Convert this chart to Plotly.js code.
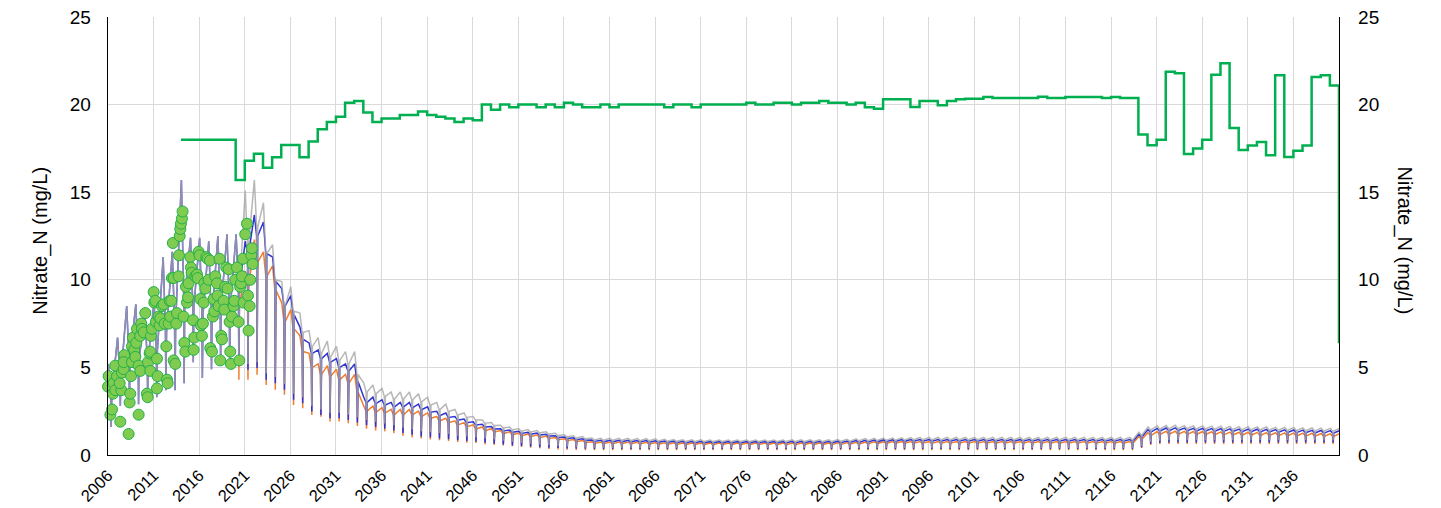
<!DOCTYPE html>
<html>
<head>
<meta charset="utf-8">
<script src="https://cdn.plot.ly/plotly-3.0.1.min.js"></script>
<style>html,body{margin:0;padding:0;background:#fff;}#chart{width:1441px;height:508px;}</style>
</head>
<body>
<div id="chart"></div>
<script>
// ---------- DATA ----------
const xTickLabels = ['2006','2011','2016','2021','2026','2031','2036','2041','2046','2051','2056','2061','2066','2071','2076','2081','2086','2091','2096','2101','2106','2111','2116','2121','2126','2131','2136'];

// model years 2006 .. 2141 (one cycle per year)
const firstYear = 2006;

// Gray series: annual peak, plateau and trough
const grayHi = [
5.2,6.7,8.5,8.6,8.1,8.8,11.3,11.6,15.7,12.4,
12.4,12.2,12.5,12.6,12.6,15.1,15.7,14.4,12.0,9.9,
9.6,8.1,7.1,6.7,6.5,6.2,5.9,5.9,4.1,4.0,
3.8,3.6,3.6,3.6,3.5,3.3,3.0,2.9,2.6,2.4,
2.2,2.0,1.85,1.7,1.6,1.5,1.45,1.4,1.33,1.24,
1.15,1.1,1.05,0.97,0.95,0.95,0.95,0.95,0.94,0.93,
0.92,0.9,0.88,0.87,0.87,0.87,0.86,0.86,0.86,0.86,
0.86,0.86,0.86,0.86,0.86,0.87,0.87,0.87,0.87,0.87,
0.88,0.9,0.92,0.94,0.95,0.96,0.97,0.98,0.99,1.0,
1.0,1.0,1.0,1.0,1.0,1.0,1.0,1.0,1.0,1.0,
1.0,1.0,1.0,1.0,1.0,1.0,1.0,1.0,1.0,1.0,
1.0,1.0,1.0,1.3,1.6,1.66,1.68,1.7,1.68,1.66,
1.66,1.65,1.64,1.63,1.62,1.62,1.6,1.6,1.58,1.57,
1.56,1.55,1.54,1.53,1.52,1.52];
const grayPl = [
3.5,4.5,5.5,5.5,5.5,6.0,7.0,7.5,9.0,8.5,
8.0,8.0,8.5,8.5,9.5,12.0,13.0,11.5,10.0,8.5,
8.2,7.0,6.2,5.8,5.6,5.4,5.2,4.6,3.6,3.5,
3.35,3.2,3.2,3.15,3.05,2.85,2.6,2.5,2.3,2.15,
2.0,1.82,1.68,1.55,1.45,1.37,1.32,1.27,1.2,1.12,
1.05,0.98,0.93,0.87,0.85,0.85,0.85,0.84,0.83,0.82,
0.81,0.8,0.79,0.78,0.78,0.78,0.78,0.78,0.78,0.78,
0.78,0.78,0.78,0.78,0.78,0.78,0.78,0.78,0.78,0.78,
0.79,0.8,0.82,0.83,0.84,0.85,0.86,0.87,0.88,0.88,
0.88,0.88,0.88,0.88,0.88,0.88,0.88,0.88,0.88,0.88,
0.88,0.88,0.88,0.88,0.88,0.88,0.88,0.88,0.88,0.88,
0.88,0.88,0.88,1.15,1.45,1.5,1.52,1.53,1.52,1.5,
1.5,1.49,1.48,1.47,1.46,1.46,1.45,1.44,1.43,1.42,
1.41,1.4,1.39,1.38,1.37,null];
const grayLo = [
1.6,2.8,3.0,2.9,3.3,3.3,3.7,3.7,4.1,5.3,
4.4,4.9,5.3,5.1,5.2,5.2,5.3,4.65,4.45,4.05,
3.5,3.3,2.8,2.6,2.4,2.4,2.3,2.15,2.0,1.9,
1.8,1.7,1.55,1.45,1.35,1.3,1.25,1.2,1.1,1.05,
1.0,0.95,0.88,0.82,0.76,0.7,0.65,0.6,0.56,0.52,
0.48,0.45,0.43,0.42,0.42,0.41,0.41,0.41,0.4,0.4,
0.4,0.4,0.4,0.4,0.4,0.4,0.4,0.4,0.4,0.4,
0.4,0.4,0.4,0.4,0.4,0.4,0.4,0.4,0.4,0.4,
0.4,0.4,0.4,0.4,0.4,0.4,0.4,0.4,0.4,0.4,
0.4,0.4,0.4,0.4,0.4,0.4,0.4,0.4,0.4,0.4,
0.4,0.4,0.4,0.4,0.4,0.4,0.4,0.4,0.4,0.4,
0.4,0.4,0.4,0.52,0.75,0.82,0.84,0.85,0.85,0.85,
0.85,0.85,0.85,0.85,0.85,0.85,0.85,0.85,0.85,0.85,
0.84,0.84,0.83,0.83,0.83,null];

// Blue series (follows the gray one before 2020)
const blueHi = [
null,null,null,null,null,null,null,null,null,null,
null,null,null,null,null,12.2,13.7,13.3,11.3,9.5,
9.1,7.3,6.4,6.0,5.8,5.5,5.2,5.2,3.3,3.3,
3.15,3.0,3.0,3.0,2.9,2.75,2.5,2.4,2.2,2.05,
1.9,1.75,1.62,1.5,1.42,1.35,1.3,1.25,1.18,1.1,
1.03,0.98,0.93,0.86,0.84,0.84,0.84,0.84,0.83,0.82,
0.81,0.8,0.79,0.78,0.78,0.78,0.77,0.77,0.77,0.77,
0.77,0.77,0.77,0.77,0.77,0.78,0.78,0.78,0.78,0.78,
0.79,0.8,0.82,0.84,0.85,0.86,0.87,0.88,0.88,0.88,
0.88,0.88,0.88,0.88,0.88,0.88,0.88,0.88,0.88,0.88,
0.88,0.88,0.88,0.88,0.88,0.88,0.88,0.88,0.88,0.88,
0.88,0.88,0.88,1.18,1.45,1.52,1.54,1.55,1.54,1.52,
1.52,1.51,1.5,1.49,1.48,1.48,1.47,1.46,1.45,1.44,
1.43,1.42,1.41,1.4,1.39,1.39];
const bluePl = [
null,null,null,null,null,null,null,null,null,null,
null,null,null,null,null,11.5,12.5,11.5,9.9,8.5,
8.0,6.6,5.8,5.5,5.3,5.0,4.8,4.2,3.0,2.95,
2.85,2.75,2.75,2.7,2.6,2.45,2.25,2.15,2.0,1.85,
1.72,1.6,1.48,1.38,1.3,1.24,1.19,1.14,1.08,1.0,
0.94,0.88,0.84,0.78,0.76,0.76,0.76,0.76,0.75,0.74,
0.73,0.72,0.71,0.7,0.7,0.7,0.7,0.7,0.7,0.7,
0.7,0.7,0.7,0.7,0.7,0.7,0.7,0.7,0.7,0.7,
0.71,0.72,0.73,0.75,0.76,0.77,0.78,0.79,0.8,0.8,
0.8,0.8,0.8,0.8,0.8,0.8,0.8,0.8,0.8,0.8,
0.8,0.8,0.8,0.8,0.8,0.8,0.8,0.8,0.8,0.8,
0.8,0.8,0.8,1.05,1.32,1.38,1.4,1.41,1.4,1.38,
1.38,1.37,1.36,1.35,1.34,1.34,1.33,1.32,1.31,1.3,
1.29,1.28,1.27,1.26,1.25,null];
const blueLo = [
null,null,null,null,null,null,null,null,null,null,
null,null,null,null,5.07,4.87,4.96,4.3,4.1,3.72,
3.15,2.96,2.48,2.29,2.1,2.1,2.0,1.85,1.7,1.6,
1.5,1.4,1.25,1.15,1.05,1.0,0.95,0.9,0.85,0.8,
0.76,0.7,0.65,0.6,0.55,0.52,0.48,0.45,0.42,0.4,
0.38,0.37,0.36,0.35,0.35,0.35,0.35,0.35,0.35,0.35,
0.35,0.35,0.35,0.35,0.35,0.35,0.35,0.35,0.35,0.35,
0.35,0.35,0.35,0.35,0.35,0.35,0.35,0.35,0.35,0.35,
0.35,0.35,0.35,0.35,0.35,0.35,0.35,0.35,0.35,0.35,
0.35,0.35,0.35,0.35,0.35,0.35,0.35,0.35,0.35,0.35,
0.35,0.35,0.35,0.35,0.35,0.35,0.35,0.35,0.35,0.35,
0.35,0.35,0.35,0.45,0.65,0.7,0.72,0.72,0.72,0.72,
0.72,0.72,0.72,0.72,0.72,0.72,0.72,0.72,0.72,0.72,
0.72,0.72,0.72,0.72,0.72,null];

// Orange series (starts 2020)
const orangeHi = [
null,null,null,null,null,null,null,null,null,null,
null,null,null,null,null,10.5,12.3,11.6,10.8,8.7,
8.3,6.8,5.8,5.2,5.1,4.9,4.6,4.6,2.8,2.8,
2.7,2.6,2.6,2.6,2.5,2.4,2.2,2.1,1.95,1.85,
1.72,1.6,1.5,1.4,1.32,1.25,1.2,1.15,1.08,1.0,
0.93,0.88,0.82,0.76,0.74,0.74,0.74,0.74,0.73,0.72,
0.71,0.7,0.7,0.69,0.69,0.69,0.69,0.69,0.69,0.69,
0.69,0.69,0.69,0.69,0.69,0.69,0.69,0.69,0.69,0.69,
0.7,0.71,0.72,0.74,0.75,0.76,0.77,0.77,0.77,0.77,
0.77,0.77,0.77,0.77,0.77,0.77,0.77,0.77,0.77,0.77,
0.77,0.77,0.77,0.77,0.77,0.77,0.77,0.77,0.77,0.77,
0.77,0.77,0.77,1.05,1.28,1.34,1.36,1.36,1.35,1.34,
1.34,1.33,1.32,1.31,1.3,1.3,1.29,1.28,1.27,1.26,
1.26,1.25,1.24,1.23,1.22,1.22];
const orangePl = [
null,null,null,null,null,null,null,null,null,null,
null,null,null,null,8.5,9.5,11.0,10.2,9.4,7.6,
7.2,5.9,5.0,4.6,4.5,4.3,4.1,3.6,2.5,2.45,
2.4,2.3,2.3,2.3,2.2,2.1,1.95,1.85,1.72,1.62,
1.5,1.4,1.32,1.23,1.16,1.1,1.05,1.0,0.95,0.88,
0.82,0.77,0.72,0.67,0.65,0.65,0.65,0.65,0.64,0.63,
0.62,0.61,0.61,0.6,0.6,0.6,0.6,0.6,0.6,0.6,
0.6,0.6,0.6,0.6,0.6,0.6,0.6,0.6,0.6,0.6,
0.61,0.62,0.63,0.65,0.66,0.67,0.68,0.68,0.68,0.68,
0.68,0.68,0.68,0.68,0.68,0.68,0.68,0.68,0.68,0.68,
0.68,0.68,0.68,0.68,0.68,0.68,0.68,0.68,0.68,0.68,
0.68,0.68,0.68,0.92,1.12,1.18,1.2,1.2,1.19,1.18,
1.18,1.17,1.16,1.15,1.14,1.14,1.13,1.12,1.11,1.1,
1.1,1.09,1.08,1.07,1.06,null];
const orangeLo = [
null,null,null,null,null,null,null,null,null,null,
null,null,null,null,4.3,4.3,4.58,4.0,3.72,3.44,
2.86,2.67,2.29,2.19,1.91,1.91,1.81,1.65,1.5,1.4,
1.35,1.25,1.1,1.0,0.95,0.88,0.85,0.8,0.75,0.7,
0.68,0.62,0.58,0.54,0.5,0.46,0.42,0.38,0.35,0.32,
0.3,0.29,0.28,0.28,0.28,0.28,0.28,0.28,0.28,0.28,
0.28,0.28,0.28,0.28,0.28,0.28,0.28,0.28,0.28,0.28,
0.28,0.28,0.28,0.28,0.28,0.28,0.28,0.28,0.28,0.28,
0.28,0.28,0.28,0.28,0.28,0.28,0.28,0.28,0.28,0.28,
0.28,0.28,0.28,0.28,0.28,0.28,0.28,0.28,0.28,0.28,
0.28,0.28,0.28,0.28,0.28,0.28,0.28,0.28,0.28,0.28,
0.28,0.28,0.28,0.4,0.58,0.63,0.63,0.63,0.63,0.63,
0.63,0.63,0.63,0.63,0.63,0.63,0.63,0.63,0.63,0.63,
0.63,0.63,0.63,0.63,0.63,null];

// Green stepped series, one value per year from 2014
const greenStart = 2014;
const greenVals = [
18.0,18.0,18.0,18.0,18.0,18.0,
15.7,16.8,17.2,16.4,17.0,17.7,17.7,17.0,17.9,18.6,
19.0,19.3,20.1,20.2,19.55,19.0,19.2,19.2,19.4,19.4,
19.6,19.4,19.3,19.2,19.0,19.2,19.1,20.0,19.7,20.0,
19.85,20.0,20.0,19.85,20.0,19.85,20.1,20.0,19.85,19.85,
20.0,19.85,20.0,20.0,20.0,20.0,20.0,19.85,20.0,20.0,
19.85,20.0,20.0,20.0,20.0,20.0,20.1,20.0,20.0,20.1,
20.1,20.0,20.1,20.1,20.2,20.1,20.1,20.0,20.1,19.85,
19.77,20.3,20.3,20.3,19.87,20.2,20.2,19.96,20.2,20.3,
20.34,20.34,20.44,20.38,20.38,20.38,20.38,20.38,20.45,20.38,
20.38,20.44,20.44,20.44,20.44,20.38,20.44,20.38,20.38,18.29,
17.68,18.0,21.87,21.79,17.18,17.49,18.0,21.7,22.36,18.67,
17.41,17.66,17.87,17.11,21.68,17.01,17.37,17.66,21.58,21.68,
21.09,6.38];

// Observations
const obsYear = [
2006.0,2006.26,2006.44,2006.07,2006.62,2006.55,2006.80,2006.99,2006.80,2007.35,
2007.46,2007.28,2007.53,2007.71,2007.79,2007.71,2008.26,2008.37,2008.44,2008.52,
2008.63,2008.63,2008.74,2008.88,2008.99,2009.10,2009.36,2009.18,2009.36,2009.54,
2009.65,2009.54,2009.72,2009.91,2010.09,2010.27,2010.35,2010.38,2010.57,2010.64,
2010.71,2010.64,2010.82,2011.01,2011.08,2011.19,2011.26,2011.37,2011.44,2011.37,
2011.55,2011.66,2011.74,2011.92,2012.10,2012.21,2012.39,2012.47,2012.54,2012.65,
2012.76,2012.83,2012.94,2013.01,2013.12,2013.20,2013.20,2013.38,2013.49,2013.56,
2013.74,2013.78,2013.86,2013.93,2014.00,2014.11,2014.18,2014.29,2014.37,2014.48,
2014.55,2014.66,2014.77,2014.84,2015.02,2015.10,2015.17,2015.32,2015.39,2015.46,
2015.57,2015.76,2015.83,2015.94,2016.05,2016.12,2016.19,2016.30,2016.41,2016.49,
2016.56,2016.67,2016.78,2016.92,2017.03,2017.18,2017.22,2017.40,2017.51,2017.58,
2017.66,2017.76,2017.95,2018.02,2018.13,2018.24,2018.31,2018.42,2018.50,2018.68,
2018.75,2018.86,2018.97,2019.12,2019.23,2019.34,2019.41,2019.48,2019.59,2019.77,
2019.85,2019.96,2020.14,2020.32,2020.40,2020.50,2020.58,2020.69,2020.80,2020.87,
2021.05,2021.24,2021.35,2021.42,2021.53,2021.60,2021.71,2021.78,2021.86];
const obsValue = [
3.9,2.3,2.6,4.5,4.1,3.5,3.7,4.5,5.1,1.9,
3.7,4.1,4.7,4.9,5.7,5.3,1.2,3.0,3.5,4.5,
5.3,6.2,6.7,6.0,5.6,6.4,2.3,7.2,5.1,4.8,
7.5,6.8,7.2,7.0,8.1,3.5,3.3,5.3,5.8,5.9,
6.8,4.8,7.2,9.3,8.7,8.8,7.6,3.8,4.5,5.5,
7.9,7.4,7.8,8.5,8.6,7.5,6.2,4.3,4.1,7.5,
8.8,7.9,8.8,10.1,12.1,10.1,5.4,5.2,7.5,8.1,
10.2,11.4,12.5,12.9,13.2,13.5,13.9,7.9,6.4,5.9,
9.6,8.7,9.0,9.8,11.3,10.7,10.4,7.7,6.0,6.7,
10.2,10.3,10.1,11.6,11.4,8.9,7.4,6.8,7.5,8.7,
9.8,9.5,11.3,11.2,10.0,11.1,6.1,5.9,7.9,8.9,
8.2,10.2,9.8,9.1,8.5,11.2,5.4,6.8,6.6,8.8,
8.3,9.6,10.7,9.5,10.6,7.6,5.9,5.2,7.9,8.5,
8.8,10.0,10.7,7.6,5.4,9.6,9.8,10.2,11.2,8.7,
12.6,13.2,9.1,7.1,8.5,10.0,11.4,11.8,10.9];

// ---------- BUILD ----------
function cycleLine(hi, pl, lo, fb) {
  const xs = [], ys = [];
  const pick = (a, f, i) => (a[i] != null ? a[i] : (f ? f[i] : null));
  for (let i = 0; i < hi.length; i++) {
    const yr = firstYear + i;
    const h = pick(hi, fb && fb.hi, i);
    const p = pick(pl, fb && fb.pl, i);
    const l = pick(lo, fb && fb.lo, i);
    if (h != null) { xs.push(yr + 0.05); ys.push(h); }
    if (p != null && h != null) { xs.push(yr + 0.30); ys.push(p); }
    if (l != null) { xs.push(yr + 0.35); ys.push(l); }
    if (p != null) { xs.push(yr + 0.42); ys.push(p); }
  }
  return {x: xs, y: ys};
}
const grayLine = cycleLine(grayHi, grayPl, grayLo);
const blueLine = cycleLine(blueHi, bluePl, blueLo, {hi: grayHi, pl: grayPl, lo: grayLo});
const orangeLine = cycleLine(orangeHi, orangePl, orangeLo);
const greenX = greenVals.map((v, i) => greenStart + i);

const traces = [
  {x: orangeLine.x, y: orangeLine.y, mode: 'lines', line: {color: '#f07d2e', width: 1.5}, hoverinfo: 'skip'},
  {x: blueLine.x, y: blueLine.y, mode: 'lines', line: {color: '#2f34d4', width: 1.5}, hoverinfo: 'skip'},
  {x: grayLine.x, y: grayLine.y, mode: 'lines', line: {color: 'rgba(165,165,165,0.8)', width: 1.5}, hoverinfo: 'skip'},
  {x: greenX, y: greenVals, yaxis: 'y2', mode: 'lines', line: {color: '#00b050', width: 2.5, shape: 'hv'}, hoverinfo: 'skip'},
  {x: obsYear, y: obsValue, mode: 'markers', cliponaxis: false,
   marker: {size: 11, color: '#80cc50', line: {color: '#22b04a', width: 1}}, hoverinfo: 'skip'}
];

const font = 'Arial, "Liberation Sans", sans-serif';
const layout = {
  width: 1441, height: 508,
  margin: {l: 108, r: 102, t: 17, b: 53, pad: 0},
  paper_bgcolor: '#fff', plot_bgcolor: '#fff',
  font: {family: font, color: '#000'},
  showlegend: false,
  xaxis: {
    range: [2006, 2141],
    tickmode: 'array', tickvals: xTickLabels.map(Number), ticktext: xTickLabels,
    tickangle: -45, tickfont: {size: 16.5, color: '#000'},
    showgrid: true, gridcolor: '#d9d9d9', gridwidth: 1,
    showline: true, linecolor: '#000', linewidth: 1.3,
    zeroline: false, ticks: '', ticklabelstandoff: 3
  },
  yaxis: {
    range: [0, 25], tick0: 0, dtick: 5, tickfont: {size: 19, color: '#000'},
    showgrid: true, gridcolor: '#d9d9d9', gridwidth: 1,
    showline: true, linecolor: '#000', linewidth: 1.3,
    zeroline: false, ticks: '', ticklabelstandoff: 12
  },
  yaxis2: {
    overlaying: 'y', side: 'right',
    range: [0, 25], tick0: 0, dtick: 5, tickfont: {size: 19, color: '#000'},
    showgrid: false, showline: true, linecolor: '#000', linewidth: 1.3,
    zeroline: false, ticks: '', ticklabelstandoff: 14
  },
  annotations: [
    {text: 'Nitrate_N (mg/L)', xref: 'paper', yref: 'paper', x: -0.055, y: 0.49,
     xanchor: 'center', yanchor: 'middle', textangle: -90, showarrow: false,
     font: {size: 20, family: font, color: '#000'}},
    {text: 'Nitrate_N (mg/L)', xref: 'paper', yref: 'paper', x: 1.0535, y: 0.49,
     xanchor: 'center', yanchor: 'middle', textangle: 90, showarrow: false,
     font: {size: 20, family: font, color: '#000'}}
  ]
};

Plotly.newPlot('chart', traces, layout, {staticPlot: true, displayModeBar: false});
</script>
</body>
</html>
